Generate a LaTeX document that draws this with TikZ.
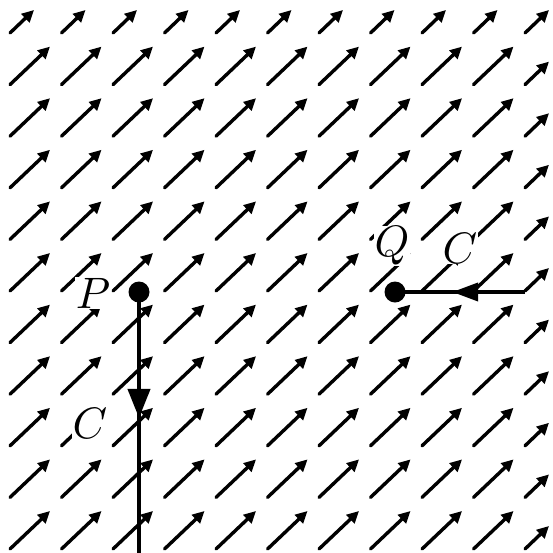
\documentclass[tikz,border=0pt]{standalone}
\usepackage{graphicx}
\usetikzlibrary{arrows.meta,decorations.markings}
\newcommand{\biglab}[1]{\scalebox{4.4}{$#1$}}
\begin{document}
\begin{tikzpicture}[x=1pt,y=-1pt,
  fieldarrow/.style={line width=3.4pt,line cap=round,-{Triangle[length=12pt,width=11.5pt]}},
  pathline/.style={line width=4pt},
  dotnode/.style={circle,fill=black,inner sep=0pt,minimum size=21pt},
  lab/.style={fill=white,inner sep=0.5pt}]
\fill[white] (0,0) rectangle (553,552);
\useasboundingbox (0,0) rectangle (553,552);
\begin{scope}
\clip (0,0) rectangle (553,552);
\foreach \i in {0,...,10}{
  \foreach \j in {0,...,10}{
    \pgfmathsetmacro{\xx}{10+51.5*\i}
    \pgfmathsetmacro{\yy}{33+51.6*\j}
    \pgfmathsetmacro{\short}{(\i==10 || \j==0) ? 1 : 0}
    \ifdim\short pt>0.5pt
      \draw[fieldarrow] (\xx,\yy) -- ++(24,-23);
    \else
      \draw[fieldarrow] (\xx,\yy) -- ++(40,-38);
    \fi
  }
}
\end{scope}
% labels
\node[lab] (Plab) at (93,293) {\biglab{P}};
\node[lab] (C1lab) at (90,423) {\biglab{C}};
\node[lab] (Qlab) at (392,246) {\biglab{Q}};
\node[lab] (C2lab) at (460,248) {\biglab{C}};
% path points
\coordinate (Pc) at (139,292);
\coordinate (Pend) at (139,560);
\coordinate (Qc) at (395,292);
\coordinate (Qend) at (525,292);
\draw[pathline,postaction={decorate},decoration={markings,
  mark=at position 0.47 with {\arrow{Triangle[length=29pt,width=22pt]}}}] (Pc) -- (Pend);
\draw[pathline,postaction={decorate},decoration={markings,
  mark=at position 0.56 with {\arrow{Triangle[length=26pt,width=18pt]}}}] (Qend) -- (Qc);
\node[dotnode] (P) at (Pc) {};
\node[dotnode] (Q) at (Qc) {};
\end{tikzpicture}
\end{document}
